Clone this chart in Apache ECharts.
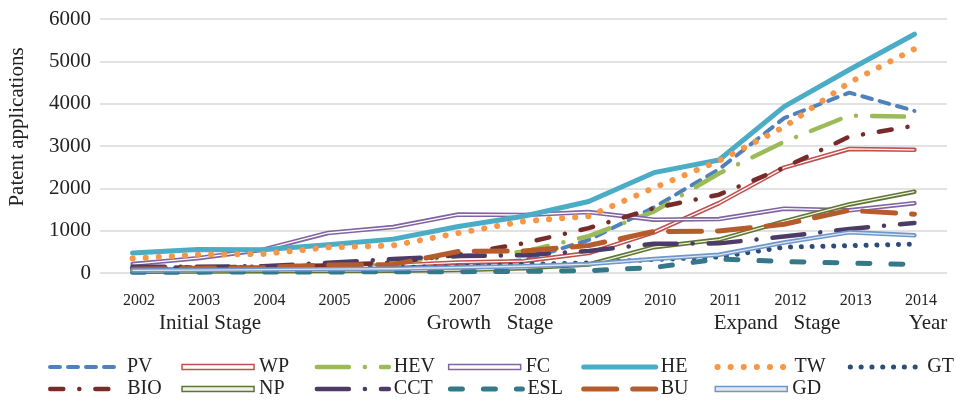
<!DOCTYPE html>
<html>
<head>
<meta charset="utf-8">
<script src="https://cdn.jsdelivr.net/npm/echarts@6/dist/echarts.min.js"></script>
<style>
  html, body { margin: 0; padding: 0; background: #fff; }
  #chart { width: 957px; height: 400px; }
</style>
</head>
<body>
<div id="chart"></div>
<script>
// 年份（x轴）
const years = ['2002', '2003', '2004', '2005', '2006', '2007', '2008', '2009', '2010', '2011', '2012', '2013', '2014']
const yTicks = [0, 1000, 2000, 3000, 4000, 5000, 6000]

// 各技术领域的专利申请量
const PV = [80, 90, 100, 110, 140, 200, 300, 780, 1550, 2450, 3660, 4260, 3830]
const WP = [70, 80, 90, 110, 180, 250, 280, 470, 960, 1650, 2490, 2930, 2910]
const HEV = [50, 60, 80, 120, 250, 400, 500, 870, 1450, 2350, 3100, 3720, 3690]
const FC = [210, 350, 550, 945, 1085, 1380, 1370, 1440, 1260, 1275, 1520, 1480, 1650]
const HE = [470, 555, 550, 665, 800, 1100, 1340, 1690, 2370, 2670, 3930, 4800, 5640]
const TW = [345, 430, 450, 605, 650, 945, 1220, 1340, 2010, 2650, 3450, 4500, 5290]
const GT = [120, 130, 130, 120, 130, 150, 200, 240, 320, 380, 610, 645, 685]
const BIO = [110, 130, 150, 180, 250, 430, 700, 1060, 1530, 1850, 2490, 3220, 3480]
const NP = [30, 35, 40, 45, 55, 70, 110, 200, 610, 790, 1220, 1620, 1920]
const CCT = [150, 150, 160, 240, 330, 400, 420, 520, 690, 700, 860, 1040, 1180]
const ESL = [20, 20, 25, 25, 30, 30, 40, 55, 130, 330, 270, 235, 200]
const BU = [90, 110, 130, 190, 200, 510, 520, 650, 980, 990, 1150, 1480, 1390]
const GD = [60, 70, 80, 90, 100, 130, 160, 210, 330, 430, 720, 960, 890]

const seriesNames = ['PV', 'WP', 'HEV', 'FC', 'HE', 'TW', 'GT', 'BIO', 'NP', 'CCT', 'ESL', 'BU', 'GD']
const seriesValues = [PV, WP, HEV, FC, HE, TW, GT, BIO, NP, CCT, ESL, BU, GD]

// 线条样式（双线的用 inner 表示中间的白线）
const lineStyles = {
  PV: { color: '#4F81BD', width: 4, type: [10, 8] },
  WP: { color: '#C0504D', width: 4.5, inner: '#ffffff' },
  HEV: { color: '#9BBB59', width: 4.5, type: [32, 16, 0.1, 16] },
  FC: { color: '#8064A2', width: 4.5, inner: '#ffffff' },
  HE: { color: '#4BACC6', width: 5 },
  TW: { color: '#F79646', width: 6, type: [0.1, 13] },
  GT: { color: '#2C4D78', width: 5, type: [0.1, 10.7] },
  BIO: { color: '#772C2A', width: 4.5, type: [13, 16, 0.1, 16] },
  NP: { color: '#5F7530', width: 4.5, inner: '#eef2e4' },
  CCT: { color: '#4D3B67', width: 4.5, type: [32, 16, 0.1, 16] },
  ESL: { color: '#34788A', width: 5, type: [12, 21] },
  BU: { color: '#B65C2C', width: 5, type: [33, 16] },
  GD: { color: '#7097CA', width: 4.5, inner: '#dde8f5' }
}

const font = 'Liberation Serif'

const chart = echarts.init(document.getElementById('chart'))

const series = []
seriesNames.forEach((name, i) => {
  const s = lineStyles[name]
  series.push({
    type: 'line',
    name: name,
    data: seriesValues[i],
    symbol: 'none',
    lineStyle: { color: s.color, width: s.width, type: s.type || 'solid', cap: 'round', join: 'round' },
    itemStyle: { color: s.color }
  })
  if (s.inner) {
    series.push({
      type: 'line',
      name: name + '_inner',
      data: seriesValues[i],
      symbol: 'none',
      silent: true,
      lineStyle: { color: s.inner, width: 1.3, join: 'round' }
    })
  }
})

const legendItem = (name) => {
  const s = lineStyles[name]
  if (s.inner) {
    return {
      name: name,
      icon: 'path://M0,0H72V5H0Z',
      itemStyle: { color: s.inner, borderColor: s.color, borderWidth: 1.5, opacity: 1 }
    }
  }
  return {
    name: name,
    lineStyle: { color: s.color, width: s.width, type: s.type || 'solid', cap: 'round' },
    itemStyle: { opacity: 0 }
  }
}

// 图例：每一项单独定位，两行对齐成列
const legends = seriesNames.map((name, i) => {
  const col = i < 7 ? i : i - 7
  const row = i < 7 ? 0 : 1
  return {
    left: 48 + col * 133.3,
    top: 357 + row * 22,
    padding: 0,
    itemWidth: 72,
    itemHeight: 14,
    selectedMode: false,
    itemStyle: { opacity: 0 },
    textStyle: { fontFamily: font, fontSize: 20, color: '#222' },
    data: [legendItem(name)]
  }
})

const stageText = (text, x) => ({
  type: 'text', x: x, y: 323,
  style: { text: text, font: '21px "Liberation Serif"', fill: '#222', align: 'center', verticalAlign: 'middle' }
})

const option = {
  animation: false,
  backgroundColor: '#fff',
  grid: { left: 100, right: 10, top: 19, bottom: 127 },
  xAxis: {
    type: 'category',
    data: years,
    boundaryGap: true,
    axisLine: { show: false },
    axisTick: { show: false },
    axisLabel: { fontFamily: font, fontSize: 16, color: '#222', margin: 20, padding: [0, 0, 0, 13] }
  },
  yAxis: {
    type: 'value',
    min: yTicks[0],
    max: yTicks[yTicks.length - 1],
    interval: 1000,
    axisLine: { show: false },
    axisTick: { show: false },
    splitLine: { lineStyle: { color: '#D9D9D9', width: 1.5 } },
    axisLabel: { fontFamily: font, fontSize: 21, color: '#222', margin: 9, formatter: (v) => String(v) }
  },
  legend: legends,
  graphic: [
    {
      type: 'text', x: 17, y: 127, rotation: Math.PI / 2,
      style: { text: 'Patent applications', font: '21px "Liberation Serif"', fill: '#222', align: 'center', verticalAlign: 'middle' }
    },
    stageText('Initial Stage', 210),
    stageText('Growth   Stage', 490),
    stageText('Expand   Stage', 777),
    stageText('Year', 928)
  ],
  series: series
}

chart.setOption(option)
</script>
</body>
</html>
